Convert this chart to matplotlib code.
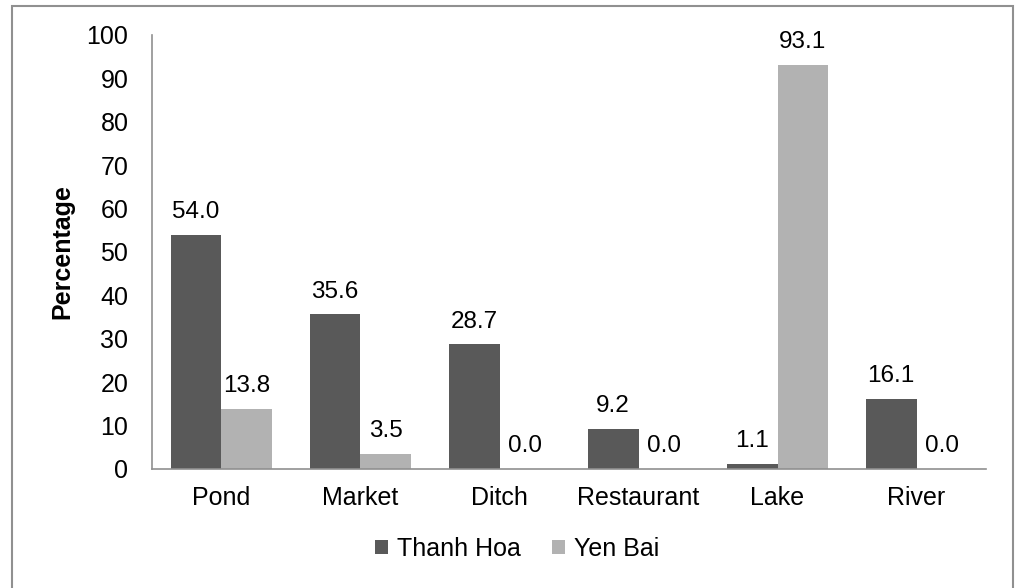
import numpy as np
import matplotlib.pyplot as plt
from matplotlib.patches import Rectangle

plt.rcParams['font.family'] = ['Liberation Sans', 'DejaVu Sans']

categories = ['Pond', 'Market', 'Ditch', 'Restaurant', 'Lake', 'River']
thanh_hoa = [54.0, 35.6, 28.7, 9.2, 1.1, 16.1]
yen_bai = [13.8, 3.5, 0.0, 0.0, 93.1, 0.0]
series_names = ['Thanh Hoa', 'Yen Bai']
yticks = list(range(0, 101, 10))

dark = '#595959'
light = '#b2b2b2'
fs = 18

fig = plt.figure(figsize=(10.18, 5.88), dpi=100)
ax = fig.add_axes([0.1493, 0.2024, 0.8193, 0.7381])

x = np.arange(len(categories))
w = 0.365
b1 = ax.bar(x - w / 2, thanh_hoa, w, color=dark, label=series_names[0])
b2 = ax.bar(x + w / 2, yen_bai, w, color=light, label=series_names[1])

for bars, vals in ((b1, thanh_hoa), (b2, yen_bai)):
    for rect, v in zip(bars, vals):
        ax.annotate(f'{v:.1f}', (rect.get_x() + rect.get_width() / 2, v),
                    xytext=(0, 8.5), textcoords='offset points',
                    ha='center', va='bottom', fontsize=17.5)

ax.set_xlim(-0.5, len(categories) - 0.5)
ax.set_ylim(0, 100)
ax.set_yticks(yticks)
ax.set_xticks(x)
ax.set_xticklabels(categories)
ax.tick_params(axis='both', length=0, labelsize=fs)
ax.tick_params(axis='y', pad=17)
ax.tick_params(axis='x', pad=12)
ax.set_ylabel('Percentage', fontsize=fs, fontweight='bold', labelpad=9)

for s in ('top', 'right'):
    ax.spines[s].set_visible(False)
for s in ('left', 'bottom'):
    ax.spines[s].set_color('#909090')
    ax.spines[s].set_linewidth(1.2)

fig.legend(handles=[b1, b2], labels=series_names, loc='center',
           bbox_to_anchor=(0.508, 1 - 549 / 588), ncol=2, frameon=False,
           fontsize=fs, handlelength=0.52, handleheight=0.52,
           handletextpad=0.36, columnspacing=1.25)

fig.patches.append(Rectangle((12 / 1018, -0.02), (1013 - 12) / 1018, 1.02 - 6 / 588,
                             transform=fig.transFigure, fill=False,
                             edgecolor='#909090', linewidth=1.5))

fig.savefig('out.png', dpi=100)
